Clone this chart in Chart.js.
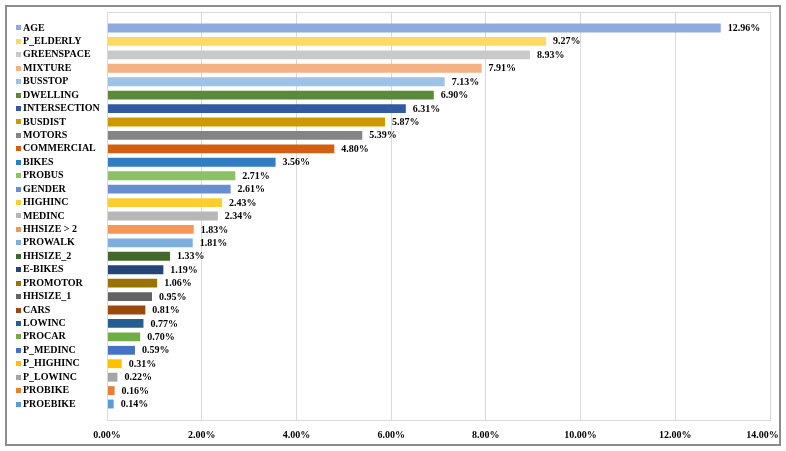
<!DOCTYPE html>
<html>
<head>
<meta charset="utf-8">
<script src="https://cdn.jsdelivr.net/npm/chart.js@4/dist/chart.umd.min.js"></script>
<style>
    html, body { margin: 0; padding: 0; background: #fff; }
    #wrap { width: 786px; height: 451px; position: relative; }
</style>
</head>
<body>
<div id="wrap"><canvas id="chart"></canvas></div>
<script>
// variable names, top to bottom
const labels = [
    "AGE", "P_ELDERLY", "GREENSPACE", "MIXTURE", "BUSSTOP", "DWELLING",
    "INTERSECTION", "BUSDIST", "MOTORS", "COMMERCIAL", "BIKES", "PROBUS",
    "GENDER", "HIGHINC", "MEDINC", "HHSIZE > 2", "PROWALK", "HHSIZE_2",
    "E-BIKES", "PROMOTOR", "HHSIZE_1", "CARS", "LOWINC", "PROCAR",
    "P_MEDINC", "P_HIGHINC", "P_LOWINC", "PROBIKE", "PROEBIKE"
];

// relative importance (%)
const values = [
    12.96, 9.27, 8.93, 7.91, 7.13, 6.90,
    6.31, 5.87, 5.39, 4.80, 3.56, 2.71,
    2.61, 2.43, 2.34, 1.83, 1.81, 1.33,
    1.19, 1.06, 0.95, 0.81, 0.77, 0.70,
    0.59, 0.31, 0.22, 0.16, 0.14
];

// Excel-style series colours
const colors = [
    "#8FAADC", "#FFD966", "#C9C9C9", "#F4B183", "#9CC3E5", "#5A8A39",
    "#335AA1", "#CC9A00", "#848484", "#D26012", "#327DC2", "#8CC168",
    "#698ED0", "#FFCD33", "#B7B7B7", "#F1975A", "#7CAFDD", "#43682B",
    "#264478", "#997300", "#636363", "#9E480E", "#255E91", "#70AD47",
    "#4472C4", "#FFC000", "#A5A5A5", "#ED7D31", "#5B9BD5"
];

const xTicks = [0, 2, 4, 6, 8, 10, 12, 14];

const FONT = "'Liberation Serif', 'Times New Roman', serif";

// outer frame + plot area border
const framePlugin = {
    id: "frame",
    beforeDraw(chart) {
        const ctx = chart.ctx;
        ctx.save();
        ctx.strokeStyle = "#8C8C8C";
        ctx.lineWidth = 2;
        ctx.strokeRect(6, 6, 774, 439);
        ctx.restore();
    },
    afterDraw(chart) {
        const { ctx, chartArea: a } = chart;
        ctx.save();
        ctx.strokeStyle = "#D9D9D9";
        ctx.lineWidth = 1;
        ctx.strokeRect(a.left + 0.5, a.top + 0.5, a.right - a.left, a.bottom - a.top);
        ctx.restore();
    }
};

// value labels and the little coloured squares next to the names
const labelPlugin = {
    id: "labels",
    afterDatasetsDraw(chart) {
        const ctx = chart.ctx;
        const meta = chart.getDatasetMeta(0);
        ctx.save();
        ctx.font = "bold 10px " + FONT;
        ctx.fillStyle = "#000";
        ctx.textBaseline = "middle";
        ctx.textAlign = "left";
        meta.data.forEach((bar, i) => {
            ctx.fillText(values[i].toFixed(2) + "%", bar.x + 7, bar.y + 0.5);
        });
        const yScale = chart.scales.y;
        labels.forEach((l, i) => {
            const y = yScale.getPixelForValue(i);
            ctx.fillStyle = colors[i];
            ctx.fillRect(16, Math.round(y - 2.5), 5, 5);
        });
        ctx.restore();
    }
};

new Chart(document.getElementById("chart"), {
    type: "bar",
    data: {
        datasets: [{
            data: values.map((v, i) => ({ x: v, y: i })),
            backgroundColor: colors,
            borderWidth: 0,
            barPercentage: 0.66,
            categoryPercentage: 1
        }]
    },
    options: {
        indexAxis: "y",
        responsive: true,
        maintainAspectRatio: false,
        animation: false,
        layout: { padding: { left: 23, top: 12, right: 16, bottom: 0 } },
        plugins: {
            legend: { display: false },
            tooltip: { enabled: false }
        },
        scales: {
            x: {
                type: "linear",
                min: 0,
                max: 14,
                afterBuildTicks: s => { s.ticks = xTicks.map(v => ({ value: v })); },
                afterFit: s => { s.height = 31; s.paddingLeft = 0; s.paddingRight = 0; },
                grid: { color: "#D9D9D9", drawTicks: false },
                border: { color: "#D9D9D9" },
                ticks: {
                    padding: 9,
                    color: "#000",
                    font: { family: FONT, size: 10, weight: "bold" },
                    // last label is nudged left to stay inside the frame, like Excel does
                    callback: v => v.toFixed(2) + "%" + (v === 14 ? "\u2007\u2007\u2007" : "")
                }
            },
            y: {
                type: "linear",
                reverse: true,
                offset: false,
                min: -1.19,
                max: 29.19,
                afterBuildTicks: s => { s.ticks = labels.map((_, i) => ({ value: i })); },
                afterFit: s => { s.width = 84; s.paddingTop = 0; s.paddingBottom = 0; },
                grid: { display: false, drawTicks: false, offset: false },
                border: { display: false },
                ticks: {
                    crossAlign: "far",
                    padding: 0,
                    autoSkip: false,
                    color: "#000",
                    font: { family: FONT, size: 10, weight: "bold" },
                    callback: v => labels[v]
                }
            }
        }
    },
    plugins: [framePlugin, labelPlugin]
});
</script>
</body>
</html>
